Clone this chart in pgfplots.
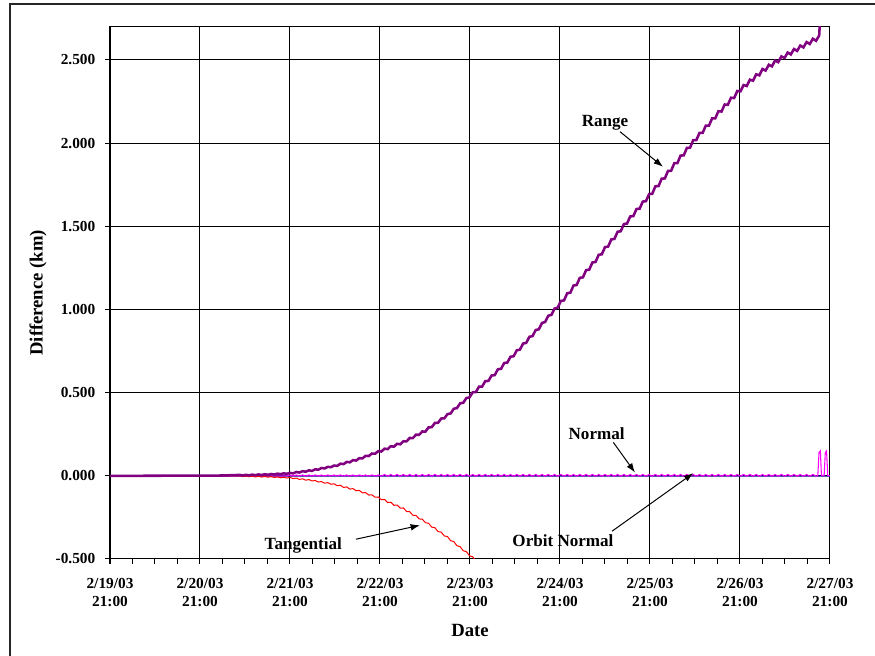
\documentclass[border=0pt]{standalone}
\usepackage{pgfplots}
\pgfplotsset{compat=1.18}
\usepackage{fontspec}
\setmainfont{Liberation Serif}
\usetikzlibrary{arrows.meta}
\definecolor{xlpurple}{RGB}{128,0,128}
\definecolor{xlnavy}{RGB}{0,0,128}
\definecolor{xlmagenta}{RGB}{255,0,255}
\definecolor{xlred}{RGB}{255,0,0}
\begin{document}
\begin{tikzpicture}[font=\fontsize{12.8}{15}\selectfont\bfseries]
\useasboundingbox (0,0) rectangle (656.25pt,492pt);
\draw[line width=1pt,black!85] (7.5pt,0) -- (7.5pt,489pt) -- (656.25pt,489pt);
\begin{axis}[
  at={(82.5pt,72.75pt)}, anchor=south west,
  scale only axis, width=540pt, height=399.2pt,
  xmin=0, xmax=8, ymin=-0.5, ymax=2.7,
  xtick={0,1,2,3,4,5,6,7,8},
  minor x tick num=3,
  ytick={-0.5,0,0.5,1,1.5,2,2.5},
  yticklabels={-0.500,0.000,0.500,1.000,1.500,2.000,2.500},
  xticklabels={{2/19/03\\21:00},{2/20/03\\21:00},{2/21/03\\21:00},{2/22/03\\21:00},{2/23/03\\21:00},{2/24/03\\21:00},{2/25/03\\21:00},{2/26/03\\21:00},{2/27/03\\21:00}},
  xticklabel style={align=center, yshift=-7pt, font=\fontsize{11.5}{13.5}\selectfont\bfseries},
  yticklabel style={xshift=-3.75pt, font=\fontsize{11.5}{13.5}\selectfont\bfseries},
  xmajorgrids, ymajorgrids,
  major grid style={black, line width=0.75pt},
  tick align=outside, tick pos=left,
  major tick length=3.75pt, minor tick length=3.75pt,
  every tick/.style={black, line width=0.75pt},
  axis line style={black, line width=0.75pt},
  xlabel={Date}, ylabel={Difference (km)},
  xlabel style={at={(axis description cs:0.5,-0.135)}, anchor=center, font=\fontsize{14}{16}\selectfont\bfseries},
  ylabel style={at={(axis description cs:-0.1,0.5)}, anchor=center, font=\fontsize{14}{16}\selectfont\bfseries},
]
% Orbit Normal
\addplot[xlnavy, line width=1.1pt] coordinates {(0,0) (2,0) (4,-0.001) (6,-0.001) (8,-0.001)};
% Normal
\addplot[xlmagenta, line width=0.8pt] coordinates {
(0,0) (1.965,0)
(2.000,0.005) (2.035,-0.001) (2.070,0.005) (2.105,-0.001) (2.140,0.005) (2.175,-0.001) (2.210,0.005) (2.245,-0.001) (2.280,0.005) (2.315,-0.001) (2.350,0.005) (2.385,-0.001) (2.420,0.005) (2.455,-0.001) (2.490,0.005) (2.525,-0.001) (2.560,0.005) (2.595,-0.001) (2.630,0.005) (2.665,-0.001) (2.700,0.005) (2.735,-0.001) (2.770,0.005) (2.805,-0.001) (2.840,0.005) (2.875,-0.001) (2.910,0.005) (2.945,-0.001) (2.980,0.005)
(3.015,-0.002) (3.050,0.008) (3.085,-0.002) (3.120,0.008) (3.155,-0.002) (3.190,0.008) (3.225,-0.002) (3.260,0.008) (3.295,-0.002) (3.330,0.008) (3.365,-0.002) (3.400,0.008) (3.435,-0.002) (3.470,0.008) (3.505,-0.002) (3.540,0.008) (3.575,-0.002) (3.610,0.008) (3.645,-0.002) (3.680,0.008) (3.715,-0.002) (3.750,0.008) (3.785,-0.002) (3.820,0.008) (3.855,-0.002) (3.890,0.008) (3.925,-0.002) (3.960,0.008) (3.995,-0.002)
(4.030,0.008) (4.065,-0.002) (4.100,0.008) (4.135,-0.002) (4.170,0.008) (4.205,-0.002) (4.240,0.008) (4.275,-0.002) (4.310,0.008) (4.345,-0.002) (4.380,0.008) (4.415,-0.002) (4.450,0.008) (4.485,-0.002) (4.520,0.008) (4.555,-0.002) (4.590,0.008) (4.625,-0.002) (4.660,0.008) (4.695,-0.002) (4.730,0.008) (4.765,-0.002) (4.800,0.008) (4.835,-0.002) (4.870,0.008) (4.905,-0.002) (4.940,0.008) (4.975,-0.002)
(5.010,0.008) (5.045,-0.002) (5.080,0.008) (5.115,-0.002) (5.150,0.008) (5.185,-0.002) (5.220,0.008) (5.255,-0.002) (5.290,0.008) (5.325,-0.002) (5.360,0.008) (5.395,-0.002) (5.430,0.008) (5.465,-0.002) (5.500,0.008) (5.535,-0.002) (5.570,0.008) (5.605,-0.002) (5.640,0.008) (5.675,-0.002) (5.710,0.008) (5.745,-0.002) (5.780,0.008) (5.815,-0.002) (5.850,0.008) (5.885,-0.002) (5.920,0.008) (5.955,-0.002) (5.990,0.008)
(6.025,-0.002) (6.060,0.008) (6.095,-0.002) (6.130,0.008) (6.165,-0.002) (6.200,0.008) (6.235,-0.002) (6.270,0.008) (6.305,-0.002) (6.340,0.008) (6.375,-0.002) (6.410,0.008) (6.445,-0.002) (6.480,0.008) (6.515,-0.002) (6.550,0.008) (6.585,-0.002) (6.620,0.008) (6.655,-0.002) (6.690,0.008) (6.725,-0.002) (6.760,0.008) (6.795,-0.002) (6.830,0.008) (6.865,-0.002) (6.900,0.008) (6.935,-0.002) (6.970,0.008)
(7.005,-0.002) (7.040,0.008) (7.075,-0.002) (7.110,0.008) (7.145,-0.002) (7.180,0.008) (7.215,-0.002) (7.250,0.008) (7.285,-0.002) (7.320,0.008) (7.355,-0.002) (7.390,0.008) (7.425,-0.002) (7.460,0.008) (7.495,-0.002) (7.530,0.008) (7.565,-0.002) (7.600,0.008) (7.635,-0.002) (7.670,0.008) (7.705,-0.002) (7.740,0.008) (7.775,-0.002) (7.810,0.008) (7.845,-0.002)
(7.865,0.002) (7.878,0.14) (7.893,0.15) (7.905,0.002) (7.935,0.002) (7.948,0.14) (7.962,0.15) (7.975,0.002) (8.0,0)
};
% Tangential
\addplot[xlred, line width=0.75pt] coordinates {
(0,0) (1.0,-0.001) (1.25,-0.001)
(1.44,0.000) (1.475,-0.0045) (1.51,-0.001) (1.545,-0.0055) (1.58,-0.002) (1.615,-0.0065) (1.65,-0.003) (1.685,-0.0075) (1.72,-0.004) (1.755,-0.0082) (1.79,-0.0051) (1.825,-0.0100) (1.86,-0.0068) (1.895,-0.0117) (1.93,-0.0085) (1.965,-0.0134)
(2.000,-0.009) (2.035,-0.0172) (2.070,-0.0135) (2.105,-0.0217) (2.140,-0.0180) (2.175,-0.0262) (2.210,-0.0224) (2.245,-0.0307)
(2.280,-0.0279) (2.315,-0.0372) (2.350,-0.0346) (2.385,-0.0440) (2.420,-0.0413) (2.455,-0.0507) (2.490,-0.0480)
(2.525,-0.0596) (2.560,-0.0566) (2.595,-0.0697) (2.630,-0.0667) (2.665,-0.0798) (2.700,-0.0768) (2.735,-0.0898)
(2.770,-0.0878) (2.805,-0.1023) (2.840,-0.1009) (2.875,-0.1155) (2.910,-0.1141) (2.945,-0.1287) (2.980,-0.1272)
(3.015,-0.1436) (3.050,-0.1420) (3.085,-0.1604) (3.120,-0.1588) (3.155,-0.1772) (3.190,-0.1756) (3.225,-0.1940)
(3.260,-0.1932) (3.295,-0.2144) (3.330,-0.2156) (3.365,-0.2368) (3.400,-0.2380) (3.435,-0.2592) (3.470,-0.2604)
(3.505,-0.2819) (3.540,-0.2852) (3.575,-0.3085) (3.610,-0.3118) (3.645,-0.3351) (3.680,-0.3384) (3.715,-0.3617)
(3.750,-0.365) (3.785,-0.3901) (3.820,-0.3952) (3.855,-0.4204) (3.890,-0.4255) (3.925,-0.4506) (3.960,-0.4557) (3.995,-0.4808)
(4.030,-0.4865) (4.065,-0.512) (4.10,-0.53)
};
% Range
\addplot[xlpurple, line width=1.9pt] coordinates {
(0,0) (1.0,0.001) (1.25,0.002)
(1.44,0.0055) (1.475,0.0018) (1.51,0.0062) (1.545,0.0027) (1.58,0.0073) (1.615,0.0038) (1.65,0.0084) (1.685,0.005) (1.72,0.0095) (1.755,0.0061) (1.79,0.0111) (1.825,0.0081) (1.86,0.0131) (1.895,0.0101) (1.93,0.015) (1.965,0.012)
(2.000,0.018) (2.035,0.0145) (2.070,0.023) (2.105,0.0196) (2.140,0.028) (2.175,0.0246) (2.210,0.033) (2.245,0.0296)
(2.280,0.039) (2.315,0.037) (2.350,0.047) (2.385,0.0446) (2.420,0.054) (2.455,0.052) (2.490,0.062)
(2.525,0.0598) (2.560,0.0731) (2.595,0.0704) (2.630,0.0838) (2.665,0.0811) (2.700,0.0944) (2.735,0.0917)
(2.770,0.106) (2.805,0.105) (2.840,0.120) (2.875,0.119) (2.910,0.134) (2.945,0.133) (2.980,0.148)
(3.015,0.1461) (3.050,0.1634) (3.085,0.1607) (3.120,0.1780) (3.155,0.1752) (3.190,0.1925) (3.225,0.1898)
(3.260,0.2078) (3.295,0.2076) (3.330,0.2274) (3.365,0.2272) (3.400,0.2470) (3.435,0.2468) (3.470,0.2666)
(3.505,0.2659) (3.540,0.2912) (3.575,0.2925) (3.610,0.3178) (3.645,0.3191) (3.680,0.3444) (3.715,0.3457)
(3.750,0.371) (3.785,0.3751) (3.820,0.4032) (3.855,0.4073) (3.890,0.4354) (3.925,0.4395) (3.960,0.4676) (3.995,0.4717)
(4.030,0.5024) (4.065,0.5032) (4.100,0.5360) (4.135,0.5368) (4.170,0.5696) (4.205,0.5704) (4.240,0.6032)
(4.275,0.6055) (4.310,0.6404) (4.345,0.6433) (4.380,0.6782) (4.415,0.6811) (4.450,0.7160) (4.485,0.7189)
(4.520,0.7546) (4.555,0.7589) (4.590,0.7952) (4.625,0.7995) (4.660,0.8358) (4.695,0.8401) (4.730,0.8764)
(4.765,0.8813) (4.800,0.9190) (4.835,0.9247) (4.870,0.9624) (4.905,0.9681) (4.940,1.0058) (4.975,1.0115)
(5.010,1.0516) (5.045,1.0547) (5.080,1.0978) (5.115,1.1009) (5.150,1.1440) (5.185,1.1471) (5.220,1.1902)
(5.255,1.1933) (5.290,1.2364) (5.325,1.2395) (5.360,1.2826) (5.395,1.2857) (5.430,1.3288) (5.465,1.3319)
(5.500,1.375) (5.535,1.3781) (5.570,1.4212) (5.605,1.4243) (5.640,1.4674) (5.675,1.4705) (5.710,1.5136) (5.745,1.5167)
(5.780,1.5592) (5.815,1.5616) (5.850,1.6040) (5.885,1.6064) (5.920,1.6488) (5.955,1.6512) (5.990,1.6936)
(6.025,1.6955) (6.060,1.7406) (6.095,1.7417) (6.130,1.7868) (6.165,1.7879) (6.200,1.8330) (6.235,1.8341)
(6.270,1.8792) (6.305,1.8803) (6.340,1.9254) (6.375,1.9265) (6.410,1.9716) (6.445,1.9727) (6.480,2.0178)
(6.515,2.0183) (6.550,2.0620) (6.585,2.0617) (6.620,2.1054) (6.655,2.1051) (6.690,2.1488) (6.725,2.1485)
(6.760,2.1918) (6.795,2.1901) (6.830,2.2324) (6.865,2.2307) (6.900,2.2730) (6.935,2.2713) (6.970,2.3136)
(7.005,2.3113) (7.040,2.3494) (7.075,2.3435) (7.110,2.3816) (7.145,2.3757) (7.180,2.4138) (7.215,2.4079)
(7.250,2.446) (7.285,2.4366) (7.320,2.4712) (7.355,2.4618) (7.390,2.4964) (7.425,2.4870) (7.460,2.5216) (7.495,2.5122)
(7.530,2.545) (7.565,2.5335) (7.600,2.566) (7.635,2.5545) (7.670,2.587) (7.705,2.5755) (7.740,2.608)
(7.775,2.596) (7.810,2.6278) (7.845,2.6156) (7.880,2.6474) (7.895,2.80)
};
% annotations
\node at (axis cs:5.5,2.124) {Range};
\draw[-{Latex[length=7pt,width=5pt]}, line width=0.75pt] (axis cs:5.667,2.069) -- (axis cs:6.144,1.858);
\node at (axis cs:5.407,0.255) {Normal};
\draw[-{Latex[length=7pt,width=5pt]}, line width=0.75pt] (axis cs:5.593,0.201) -- (axis cs:5.833,0.02);
\node at (axis cs:5.033,-0.387) {Orbit Normal};
\draw[-{Latex[length=7pt,width=5pt]}, line width=0.75pt] (axis cs:5.578,-0.333) -- (axis cs:6.481,0.016);
\node at (axis cs:2.148,-0.417) {Tangential};
\draw[-{Latex[length=7pt,width=5pt]}, line width=0.75pt] (axis cs:2.733,-0.381) -- (axis cs:3.444,-0.2975);
\end{axis}
\end{tikzpicture}
\end{document}
